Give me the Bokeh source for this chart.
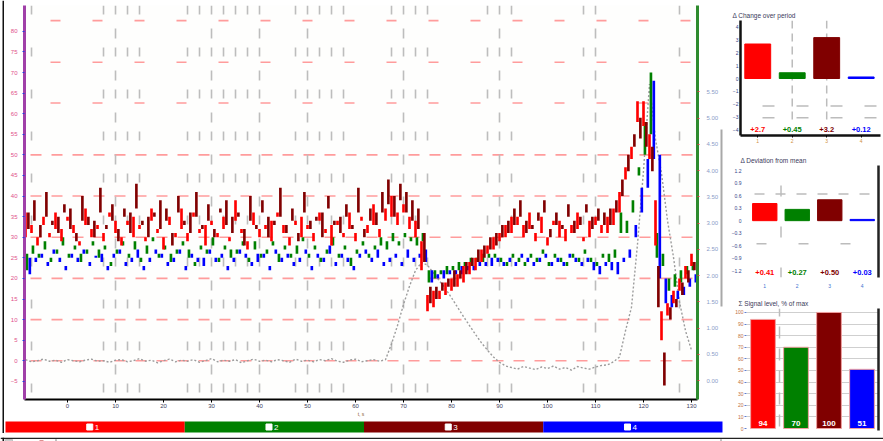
from bokeh.plotting import figure
from bokeh.layouts import row, column
from bokeh.models import (ColumnDataSource, Range1d, LinearAxis, FixedTicker,
                          NumeralTickFormatter, Label)
from bokeh.transform import dodge
from bokeh.core.properties import value
from bokeh.embed import file_html
from bokeh.resources import INLINE

FONT = "Liberation Sans"

# ---------------------------------------------------------------------------
# Main record: 112 samples, one every 1.25 time units
# ---------------------------------------------------------------------------
n_samples = 112
t = [-8.75 + 1.25 * i for i in range(n_samples)]

red_lo = [30, 31, 28, 33, 30, 32, 29, 34, 31, 28,
          33, 30, 32, 29, 35, 31, 28, 33, 30, 32,
          29, 34, 31, 27, 33, 30, 32, 29, 35, 31,
          28, 33, 30, 32, 29, 34, 31, 27, 33, 30,
          32, 29, 35, 31, 28, 33, 30, 32, 29, 34,
          31, 28, 33, 30, 32, 29, 34, 31, 33, 30,
          34, 35, 33, 36, 32, 30,
          22, 12, 13, 15, 16, 17, 18, 19, 21, 22, 24, 26, 27, 29, 30, 31,
          33, 30, 32, 29, 31, 28, 33, 30, 29, 31, 32, 29, 30, 33, 31,
          31, 33, 36, 44, 49, 58, 57, 49, 28, 5, 11, 14, 17, 20, 23]
red_hi = [36, 33, 30, 35, 31, 36, 32, 35, 33, 29,
          37, 32, 33, 31, 36, 34, 30, 34, 35, 33,
          30, 37, 32, 30, 35, 31, 37, 31, 36, 32,
          33, 34, 31, 35, 30, 39, 32, 29, 36, 32,
          33, 34, 36, 33, 30, 34, 35, 33, 31, 36,
          32, 33, 34, 31, 36, 31, 35, 33, 38, 32,
          37, 40, 36, 38, 35, 34,
          29, 16, 17, 17, 19, 20, 21, 23, 24, 25, 27, 28, 30, 31, 33, 35,
          35, 33, 36, 31, 35, 30, 34, 34, 32, 33, 36, 30, 34, 35, 33,
          35, 37, 41, 47, 52, 63, 63, 55, 39, 12, 14, 17, 20, 23, 26]

dred_lo = [32, 34, 30, 35, 33, 31, 36, 32, 29, 34,
           33, 30, 36, 32, 34, 29, 35, 31, 37, 33,
           30, 35, 32, 34, 28, 36, 33, 31, 35, 32,
           34, 30, 36, 33, 31, 35, 28, 34, 32, 36,
           30, 33, 35, 31, 34, 29, 36, 32, 34, 30,
           37, 33, 31, 35, 32, 36, 30, 34, 33, 36,
           38, 35, 39, 36, 34, 32,
           24, 14, 15, 17, 18, 18, 20, 21, 23, 24, 25, 27, 28, 30, 31, 33,
           35, 31, 32, 34, 36, 30, 33, 32, 35, 31, 33, 36, 32, 34, 33,
           33, 36, 40, 46, 52, 54, 52, 46, 13, -6, 10, 13, 16, 19, 22]
dred_hi = [36, 39, 33, 41, 34, 35, 38, 37, 31, 40,
           35, 34, 42, 33, 38, 32, 37, 36, 43, 34,
           35, 36, 39, 37, 31, 40, 34, 36, 41, 33,
           38, 32, 37, 39, 35, 36, 32, 40, 33, 39,
           35, 34, 42, 33, 37, 31, 41, 34, 35, 36,
           40, 34, 35, 38, 33, 42, 32, 37, 36, 41,
           44, 40, 43, 41, 39, 37,
           31, 18, 18, 19, 20, 22, 22, 24, 25, 27, 28, 30, 31, 33, 34, 37,
           39, 34, 33, 36, 39, 32, 36, 33, 38, 34, 35, 38, 35, 37, 36,
           37, 39, 44, 50, 55, 59, 58, 52, 23, 2, 13, 15, 19, 22, 24]

green_lo = [22, 26, 25, 27, 24, 26, 28, 25, 27, 24,
            26, 28, 25, 27, 23, 26, 28, 25, 27, 24,
            26, 29, 25, 27, 24, 26, 28, 25, 23, 27,
            26, 28, 24, 27, 25, 26, 28, 24, 27, 25,
            26, 28, 24, 27, 25, 26, 29, 25, 27, 24,
            26, 28, 25, 27, 23, 26, 28, 25, 27, 28,
            27, 29, 28, 30, 29, 28,
            29, 19, 20, 21, 21, 22, 22, 23, 23, 24, 24, 25, 25,
            24, 23, 25, 24, 23, 25, 24, 26, 23, 25, 24, 23, 25, 24, 26, 24, 23, 25,
            24, 25, 31, 31, 36, 45, 50, 55, 25, 23, 17, 18, 19, 21, 22]
green_hi = [26, 28, 26, 29, 25, 27, 30, 26, 28, 26,
            27, 29, 27, 28, 24, 27, 29, 26, 29, 25,
            28, 30, 26, 28, 26, 27, 29, 27, 24, 28,
            27, 30, 25, 28, 27, 27, 29, 25, 29, 26,
            27, 29, 26, 28, 26, 28, 30, 26, 28, 25,
            27, 30, 26, 28, 25, 27, 29, 26, 28, 30,
            29, 31, 29, 31, 30, 30,
            31, 22, 22, 22, 23, 23, 24, 24, 25, 25, 26, 26, 26,
            25, 24, 26, 25, 24, 26, 25, 27, 24, 26, 25, 24, 26, 25, 27, 25, 24, 26,
            26, 27, 36, 34, 39, 47, 58, 70, 31, 26, 20, 21, 22, 23, 24]

blue_lo = [21, 24, 25, 23, 26, 24, 22, 25, 24, 26,
           23, 25, 24, 22, 25, 26, 23, 24, 25, 22,
           24, 26, 25, 23, 24, 26, 22, 25, 24, 23,
           26, 24, 25, 22, 24, 26, 25, 23, 24, 25,
           22, 26, 24, 25, 23, 24, 26, 22, 25, 24,
           26, 23, 25, 24, 22, 25, 26, 24, 25, 23,
           24, 25, 23, 25, 24, 25,
           24, 19, 20, 20, 21, 21, 21, 22, 22, 23, 23, 23, 24,
           23, 24, 23, 25, 24, 23, 24, 25, 23, 24, 23, 25, 24, 23, 24, 22, 21, 23,
           22, 21, 24, 25, 30, 36, 42, 49, 20, 14, 13, 15, 16, 18, 19]
blue_hi = [25, 25, 26, 24, 27, 25, 23, 26, 25, 27,
           24, 25.5, 26, 23, 26, 27, 24, 25, 27, 23,
           25, 27, 26, 24, 25, 27, 23, 26, 25, 25,
           27, 25, 26, 23, 25, 27, 26, 24, 26, 26,
           23, 27, 25, 26, 24, 25, 27, 23, 26, 25,
           28, 24, 26, 25, 23, 26, 27, 25, 27, 24,
           25, 26, 24, 27, 25, 26,
           27, 22, 21, 22, 22, 22, 23, 23, 23, 24, 24, 25, 25,
           24, 25, 24, 26, 25, 24, 25, 26, 24, 25, 24, 26, 25, 24, 25, 24, 23, 24,
           24, 24, 25, 27, 33, 42, 49, 68, 50, 20, 16, 17, 18, 20, 21]

# reference trace, read on the right-hand axis
gray = [0.40, 0.36, 0.38, 0.41, 0.37, 0.39, 0.35, 0.40, 0.38, 0.36,
        0.39, 0.41, 0.37, 0.38, 0.35, 0.39, 0.40, 0.36, 0.38, 0.42,
        0.37, 0.39, 0.34, 0.38, 0.41, 0.36, 0.39, 0.37, 0.40, 0.35,
        0.38, 0.42, 0.36, 0.39, 0.37, 0.40, 0.34, 0.38, 0.41, 0.37,
        0.39, 0.36, 0.40, 0.38, 0.35, 0.41, 0.37, 0.39, 0.36, 0.40,
        0.38, 0.42, 0.37, 0.35, 0.39, 0.41, 0.36, 0.38, 0.40, 0.37,
        0.40, 0.70, 1.05, 1.45, 1.80, 2.10,
        2.25, 2.20, 2.05, 1.90, 1.75, 1.58, 1.40, 1.22, 1.05, 0.88, 0.72, 0.58, 0.45, 0.35, 0.28,
        0.25, 0.22, 0.27, 0.24, 0.21, 0.26, 0.23, 0.28, 0.22, 0.25, 0.20, 0.27, 0.24, 0.22, 0.26, 0.29,
        0.30, 0.36, 0.45, 0.95, 1.40, 2.60, 4.00, 5.65, 4.60, 3.95, 3.05, 2.35, 1.50, 0.95, 0.58]

for arr in (red_lo, red_hi, dred_lo, dred_hi, green_lo, green_hi, blue_lo, blue_hi, gray):
    assert len(arr) == n_samples, len(arr)

x_ticks = [0, 10, 20, 30, 40, 50, 60, 70, 80, 90, 100, 110, 120, 130]
left_ticks = list(range(-5, 85, 5))
right_ticks = [0.5 * k for k in range(12)]

# ---------------------------------------------------------------------------
# Summary panels (one bar per channel)
# ---------------------------------------------------------------------------
channels = ["1", "2", "3", "4"]
channel_colors = ["#ff0000", "#008000", "#800000", "#0000ff"]
chg_vals = [2.7, 0.45, 3.2, 0.12]
dev_vals = [0.41, 0.27, 0.50, 0.03]
lvl_vals = [94, 70, 100, 51]

COMMON = dict(output_backend="svg", toolbar_location=None, frame_align=False,
              outline_line_color=None, background_fill_color="white",
              border_fill_color="white")

# ---------------------------------------------------------------------------
X_LO, X_HI = -8.96, 131.25
Y_BOT, Y_TOP = -9.40, 86.27

p = figure(width=724, height=419, x_range=Range1d(X_LO, X_HI), y_range=Range1d(Y_BOT, Y_TOP),
           min_border_left=20, min_border_right=31, min_border_top=5, min_border_bottom=17,
           **dict(COMMON, background_fill_color="#fefefd"))
p.grid.visible = False
p.extra_y_ranges = {"right": Range1d(-0.359, 7.146)}

ya = p.yaxis[0]
ya.ticker = FixedTicker(ticks=left_ticks)
ya.axis_line_color = "#a040a8"
ya.axis_line_width = 3
ya.major_tick_line_color = "#2040e0"
ya.major_tick_in = 0
ya.major_tick_out = 2
ya.minor_tick_line_color = None
ya.major_label_text_font = FONT
ya.major_label_text_font_size = "6px"
ya.major_label_text_color = "#e0508a"
ya.major_label_standoff = 5

xa = p.xaxis[0]
xa.ticker = FixedTicker(ticks=x_ticks)
xa.axis_line_color = "black"
xa.axis_line_width = 2
xa.major_tick_line_color = "black"
xa.major_tick_in = 0
xa.major_tick_out = 3
xa.minor_tick_line_color = None
xa.major_label_text_font = FONT
xa.major_label_text_font_size = "6px"
xa.major_label_text_color = "#404060"
xa.major_label_standoff = 1
xa.axis_label = "t, s"
xa.axis_label_text_font = FONT
xa.axis_label_text_font_size = "5px"
xa.axis_label_text_font_style = "normal"
xa.axis_label_text_color = "#8a5a30"
xa.axis_label_standoff = 0

ra = LinearAxis(y_range_name="right", ticker=FixedTicker(ticks=right_ticks),
                formatter=NumeralTickFormatter(format="0.00"))
ra.axis_line_color = "#2e8b2e"
ra.axis_line_width = 3
ra.major_tick_line_color = "#d04040"
ra.major_tick_in = 0
ra.major_tick_out = 2
ra.minor_tick_line_color = None
ra.major_label_text_font = FONT
ra.major_label_text_font_size = "6px"
ra.major_label_text_color = "#8c9cc8"
ra.major_label_standoff = 7
p.add_layout(ra, "right")

ga = LinearAxis(y_range_name="right", bounds=(1.42, 4.78), ticker=FixedTicker(ticks=[]))
ga.axis_line_color = "#a8a8a8"
ga.axis_line_width = 2
ga.major_tick_line_color = None
ga.minor_tick_line_color = None
p.add_layout(ga, "right")

# dashed grid
major_h = [0, 10, 20, 30, 40, 50]
upper_h = [62.6, 72.5, 82.6]
grid_a = [-7.5, 7.5, 10, 12.5, 15, 25, 27.5, 30, 32.5, 35, 37.5, 40, 47.5, 50, 52.5, 55,
          57.5, 67.5, 70, 72.5, 75, 87.5, 90, 92.5, 107.5, 110, 127.5]
grid_b = [10, 30, 40, 50, 70, 90, 110]

p.segment(x0=[X_LO] * len(major_h), y0=major_h, x1=[X_HI] * len(major_h), y1=major_h,
          line_color="#ff9c9c", line_width=1.6, line_dash="11 10", line_dash_offset=15)
p.segment(x0=[X_LO] * len(upper_h), y0=upper_h, x1=[X_HI] * len(upper_h), y1=upper_h,
          line_color="#ff9c9c", line_width=1.6, line_dash="10 32", line_dash_offset=16)
p.segment(x0=grid_a, y0=[Y_TOP] * len(grid_a), x1=grid_a, y1=[Y_BOT] * len(grid_a),
          line_color="#bdbdbd", line_width=1.6, line_dash="9 33")
p.segment(x0=grid_b, y0=[Y_TOP] * len(grid_b), x1=grid_b, y1=[Y_BOT] * len(grid_b),
          line_color="#bdbdbd", line_width=1.6, line_dash="10 32", line_dash_offset=19)

src = ColumnDataSource(dict(t=t, red_lo=red_lo, red_hi=red_hi, dred_lo=dred_lo, dred_hi=dred_hi,
                            green_lo=green_lo, green_hi=green_hi, blue_lo=blue_lo,
                            blue_hi=blue_hi, gray=gray))

p.line("t", "gray", source=src, y_range_name="right", line_color="#9c9c9c",
       line_width=1.4, line_dash="2 2")
for lo, hi, col, off in [("green_lo", "green_hi", "#008000", 0.3),
                         ("blue_lo", "blue_hi", "#0000ff", 0.9),
                         ("red_lo", "red_hi", "#ff0000", 0.0),
                         ("dred_lo", "dred_hi", "#800000", 0.6)]:
    p.vbar(x=dodge("t", off), width=0.55, bottom=lo, top=hi, source=src,
           fill_color=col, line_color=None)

# ---------------------------------------------------------------------------
# Channel strip under the record
# ---------------------------------------------------------------------------
cb = figure(width=724, height=14, x_range=Range1d(-0.0056, 4.0335),
            y_range=Range1d(-1 / 11, 1 + 2 / 11), x_axis_location=None, y_axis_location=None,
            min_border=0, **COMMON)
cb.grid.visible = False
idx = list(range(len(channels)))
cb.quad(left=idx, right=[k + 1 for k in idx], bottom=0, top=1,
        fill_color=channel_colors, line_color=None)
cb.scatter(x=[k + 0.47 for k in idx], y=[0.5] * 4, marker="square", size=6,
           fill_color="white", line_color="white")
cb.text(x=[k + 0.51 for k in idx], y=[0.5] * 4, text=channels, text_color="white",
        text_font=value(FONT), text_font_size="8px", text_baseline="middle", text_align="center")


# ---------------------------------------------------------------------------
# Summary panels
# ---------------------------------------------------------------------------
def style_title(fig, text):
    fig.title.text = text
    fig.title.text_font = FONT
    fig.title.text_font_size = "6.5px"
    fig.title.text_font_style = "normal"
    fig.title.text_color = "#3a3a5a"
    fig.title.standoff = 4
    fig.title.offset = -8


def corner_mark(fig, x, y):
    fig.add_layout(Label(x=x, y=y, x_offset=-9, y_offset=10, text="–",
                         text_font=FONT, text_font_size="9px", text_color="#222222"))


def tiny_axis(ax, color="#334488"):
    ax.major_label_text_font = FONT
    ax.major_label_text_font_size = "5px"
    ax.major_label_text_color = color
    ax.minor_tick_line_color = None


# change over period
p1 = figure(width=155, height=145, x_range=Range1d(-0.5, 3.56), y_range=Range1d(-4.46, 4.54),
            min_border_left=12, min_border_right=3, min_border_top=20, min_border_bottom=8,
            **COMMON)
p1.grid.visible = False
style_title(p1, "Δ Change over period")
p1.yaxis.ticker = FixedTicker(ticks=[-4, -3, -2, -1, 0, 1, 2, 3, 4])
p1.yaxis.axis_line_color = "#111111"
p1.yaxis.axis_line_width = 2.5
p1.yaxis.major_tick_in = 0
p1.yaxis.major_tick_out = 0
p1.yaxis.major_label_standoff = 2
tiny_axis(p1.yaxis[0])
p1.xaxis.ticker = FixedTicker(ticks=idx)
p1.xaxis.major_label_overrides = {k: channels[k] for k in idx}
p1.xaxis.axis_line_color = "#111111"
p1.xaxis.axis_line_width = 2.5
p1.xaxis.major_tick_in = 0
p1.xaxis.major_tick_out = 2
p1.xaxis.major_label_standoff = 1
tiny_axis(p1.xaxis[0], "#d09040")
p1.segment(x0=[1, 2], y0=[4.54, 4.54], x1=[1, 2], y1=[-3.6, -3.6], line_color="#bcbcbc",
           line_width=1.5, line_dash="8 5")
p1.segment(x0=[-0.5, -0.5], y0=[-2.15, -3.08], x1=[3.56, 3.56], y1=[-2.15, -3.08],
           line_color="#bcbcbc", line_width=1.5, line_dash="12 22", line_dash_offset=-22)
p1.vbar(x=idx, width=0.75, bottom=0, top=chg_vals, fill_color=channel_colors,
        line_color=channel_colors, line_width=1)
p1.text(x=idx, y=[-4.0] * 4, text=["%+g" % v for v in chg_vals], text_color=channel_colors,
        text_font=value(FONT), text_font_size="7.5px", text_font_style="bold",
        text_align="center", text_baseline="middle")
corner_mark(p1, 3.56, 4.54)

# deviation from mean
p2 = figure(width=155, height=145, x_range=Range1d(-0.5, 3.5), y_range=Range1d(-1.36, 1.32),
            min_border_left=18, min_border_right=5, min_border_top=20, min_border_bottom=7,
            **COMMON)
p2.grid.visible = False
style_title(p2, "Δ Deviation from mean")
p2.yaxis.ticker = FixedTicker(ticks=[-1.2, -0.9, -0.6, -0.3, 0, 0.3, 0.6, 0.9, 1.2])
p2.yaxis.axis_line_color = None
p2.yaxis.major_tick_line_color = None
p2.yaxis.major_label_standoff = 1
tiny_axis(p2.yaxis[0])
p2.xaxis.ticker = FixedTicker(ticks=idx)
p2.xaxis.major_label_overrides = {k: channels[k] for k in idx}
p2.xaxis.axis_line_color = None
p2.xaxis.major_tick_line_color = None
p2.xaxis.major_label_standoff = 0
tiny_axis(p2.xaxis[0], "#4070d0")
r2 = LinearAxis(ticker=FixedTicker(ticks=[]), axis_line_color="#222222", axis_line_width=2.5,
                major_tick_line_color=None, minor_tick_line_color=None)
p2.add_layout(r2, "right")
p2.segment(x0=[-0.5], y0=[0.64], x1=[3.5], y1=[0.64], line_color="#bcbcbc", line_width=1.5,
           line_dash="10 11", line_dash_offset=-6)
p2.segment(x0=[-0.5], y0=[-0.55], x1=[3.5], y1=[-0.55], line_color="#bcbcbc", line_width=1.5,
           line_dash="10 32", line_dash_offset=-8)
p2.segment(x0=[0.5], y0=[1.32], x1=[0.5], y1=[-1.36], line_color="#bcbcbc", line_width=1.5,
           line_dash="11 30", line_dash_offset=21)
p2.vbar(x=idx, width=0.75, bottom=0, top=dev_vals, fill_color=channel_colors,
        line_color=channel_colors, line_width=1)
p2.text(x=idx, y=[-1.23] * 4, text=["%+.2f" % v for v in dev_vals], text_color=channel_colors,
        text_font=value(FONT), text_font_size="7.5px", text_font_style="bold",
        text_align="center", text_baseline="middle")
corner_mark(p2, 3.5, 1.32)

# signal level
p3 = figure(width=155, height=143, x_range=Range1d(-0.5, 3.5), y_range=Range1d(-1.72, 103.4),
            min_border_left=18, min_border_right=5, min_border_top=18, min_border_bottom=3,
            x_axis_location=None, **COMMON)
p3.xgrid.visible = False
p3.ygrid.ticker = FixedTicker(ticks=list(range(10, 101, 10)))
p3.ygrid.grid_line_color = "#cfcfcf"
style_title(p3, "Σ Signal level, % of max")
p3.yaxis.ticker = FixedTicker(ticks=list(range(0, 101, 10)))
p3.yaxis.axis_line_color = None
p3.yaxis.major_tick_line_color = "#6080d0"
p3.yaxis.major_tick_in = 0
p3.yaxis.major_tick_out = 2
p3.yaxis.major_label_standoff = 1
tiny_axis(p3.yaxis[0], "#c07040")
r3 = LinearAxis(ticker=FixedTicker(ticks=[]), axis_line_color="#222222", axis_line_width=2.5,
                major_tick_line_color=None, minor_tick_line_color=None)
p3.add_layout(r3, "right")
p3.segment(x0=[0.5], y0=[103.4], x1=[0.5], y1=[-1.72], line_color="#bcbcbc", line_width=1.5,
           line_dash="12 10", line_dash_offset=4)
p3.vbar(x=idx, width=0.75, bottom=0, top=lvl_vals, fill_color=channel_colors,
        line_color="#f0a0a0", line_width=1)
p3.text(x=idx, y=[4.3] * 4, text=[str(v) for v in lvl_vals], text_color="white",
        text_font=value(FONT), text_font_size="8px", text_font_style="bold",
        text_align="center", text_baseline="middle")
corner_mark(p3, 3.5, 103.4)

# ---------------------------------------------------------------------------
# Frame edge and status bar
# ---------------------------------------------------------------------------
edge = figure(width=4, height=433, x_range=Range1d(0, 4), y_range=Range1d(0, 1),
              x_axis_location=None, y_axis_location=None, min_border=0, **COMMON)
edge.grid.visible = False
edge.quad(left=[2], right=[3.6], bottom=[0], top=[1], fill_color="#111111", line_color=None)

status = figure(width=883, height=8, x_range=Range1d(0, 883), y_range=Range1d(0, 8),
                x_axis_location=None, y_axis_location=None, min_border=0, **COMMON)
status.grid.visible = False
status.segment(x0=[0], y0=[7.3], x1=[883], y1=[7.3], line_color="#222222", line_width=1.5)
status.quad(left=[2], right=[3.6], bottom=[0], top=[8], fill_color="#111111", line_color=None)
status.quad(left=[5, 55, 720], right=[12, 56, 721], bottom=[0, 0, 0], top=[6, 6, 6],
            fill_color="#cccccc", line_color="#999999", line_width=0.5)
status.scatter(x=[21, 26, 41, 50], y=[2.5, 2.5, 3, 3], marker="square", size=[4, 4, 4, 3],
               fill_color=["#e0b030", "#3050c0", "#c02020", "#222222"], line_color=None)

layout = column(row(edge, column(p, cb), column(p1, p2, p3)), status)

with open("out.html", "w") as fh:
    fh.write(file_html(layout, INLINE))
